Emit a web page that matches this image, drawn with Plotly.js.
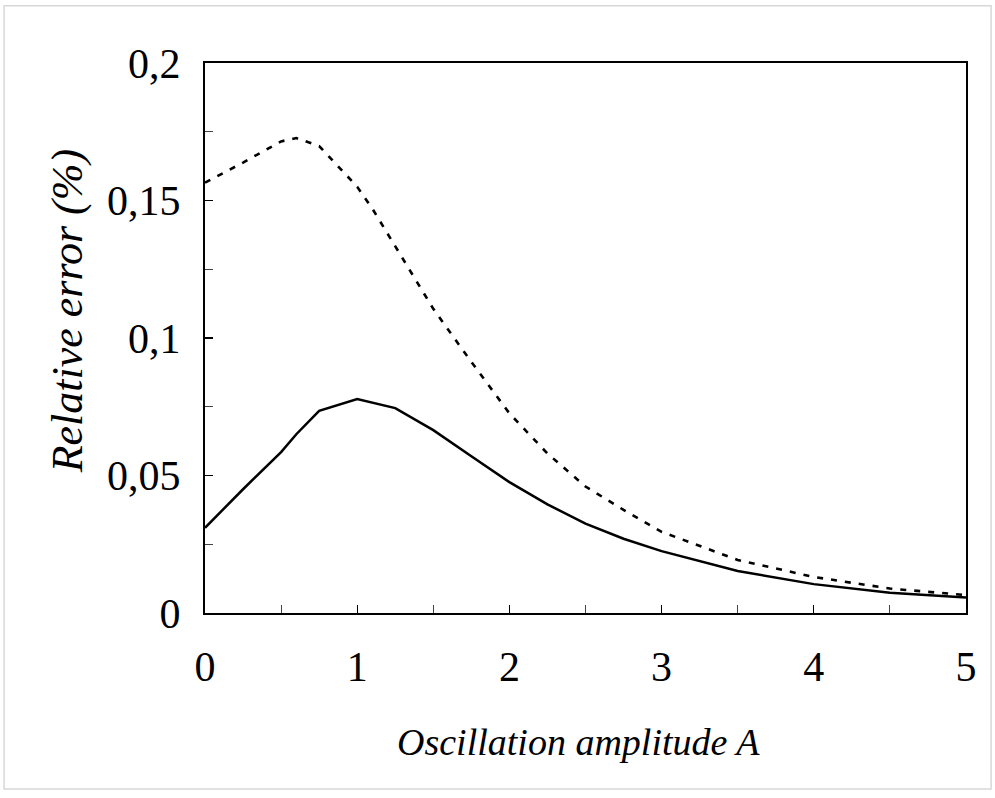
<!DOCTYPE html>
<html>
<head>
<meta charset="utf-8">
<script src="https://cdn.plot.ly/plotly-3.0.1.min.js"></script>
<style>html,body{margin:0;padding:0;background:#fff;}#chart{width:995px;height:798px;}</style>
</head>
<body>
<div id="chart"></div>
<script>
// Amplitude values (x)
const ampSolid = [0, 0.25, 0.5, 0.6, 0.75, 1.0, 1.25, 1.5, 1.75, 2.0, 2.25, 2.5, 2.75, 3.0, 3.5, 4.0, 4.5, 5.0];
const errSolid = [0.031, 0.045, 0.0585, 0.065, 0.0735, 0.0778, 0.0745, 0.0665, 0.057, 0.0476, 0.0395, 0.0325, 0.027, 0.0225, 0.0153, 0.0105, 0.0074, 0.0056];

const ampDashed = [0, 0.25, 0.5, 0.6, 0.75, 0.9, 1.0, 1.1, 1.25, 1.5, 1.75, 2.0, 2.25, 2.5, 2.75, 3.0, 3.5, 4.0, 4.5, 5.0];
const errDashed = [0.1565, 0.1638, 0.1715, 0.1727, 0.1698, 0.161, 0.155, 0.147, 0.1335, 0.1106, 0.0913, 0.0726, 0.058, 0.046, 0.0375, 0.0295, 0.0193, 0.0131, 0.0089, 0.0065];

const xTicks = [0, 1, 2, 3, 4, 5];
const yTicks = [0, 0.05, 0.1, 0.15, 0.2];
const yTickText = ["0", "0,05", "0,1", "0,15", "0,2"];
const xTickText = ["0", "1", "2", "3", "4", "5"];

const serif = "Liberation Serif, Times New Roman, serif";

const traces = [
  {x: ampDashed, y: errDashed, mode: "lines", type: "scatter",
   line: {color: "#000", width: 2.6, dash: "6px,8px"}, hoverinfo: "skip"},
  {x: ampSolid, y: errSolid, mode: "lines", type: "scatter",
   line: {color: "#000", width: 2.5}, hoverinfo: "skip"}
];

const layout = {
  width: 995, height: 798,
  paper_bgcolor: "#fff", plot_bgcolor: "#fff",
  showlegend: false,
  margin: {l: 205, r: 29, t: 63, b: 185},
  font: {family: serif, color: "#000"},
  xaxis: {
    range: [0, 5], showgrid: false, zeroline: false,
    showline: true, linecolor: "#000", linewidth: 2, mirror: true,
    ticks: "inside", ticklen: 8, tickwidth: 1.2, tickcolor: "#000",
    tickvals: xTicks, ticktext: xTickText,
    minor: {tickvals: [0.5, 1.5, 2.5, 3.5, 4.5], ticks: "inside", ticklen: 8, tickwidth: 1, tickcolor: "#444"},
    tickfont: {family: serif, size: 42, color: "#000"},
    ticklabelstandoff: 16
  },
  yaxis: {
    range: [0, 0.2], showgrid: false, zeroline: false,
    showline: true, linecolor: "#000", linewidth: 2, mirror: true,
    ticks: "inside", ticklen: 8, tickwidth: 1.2, tickcolor: "#000",
    tickvals: yTicks, ticktext: yTickText,
    minor: {tickvals: [0.025, 0.075, 0.125, 0.175], ticks: "inside", ticklen: 8, tickwidth: 1, tickcolor: "#444"},
    tickfont: {family: serif, size: 42, color: "#000"},
    ticklabelstandoff: 14
  },
  annotations: [
    {text: "<i>Oscillation amplitude A</i>", xref: "paper", yref: "paper",
     x: 0.491, y: -0.235, xanchor: "center", yanchor: "middle", showarrow: false,
     font: {family: serif, size: 38, color: "#000"}},
    {text: "<i>Relative error (%)</i>", xref: "paper", yref: "paper",
     x: -0.181, y: 0.549, xanchor: "center", yanchor: "middle", showarrow: false, textangle: -90,
     font: {family: serif, size: 44, color: "#000"}}
  ],
  shapes: [
    {type: "rect", xref: "paper", yref: "paper", x0: -0.264, x1: 1.033, y0: -0.32, y1: 1.104,
     line: {color: "#d8d8d8", width: 1.5}, fillcolor: "rgba(0,0,0,0)", layer: "below"}
  ]
};

Plotly.newPlot("chart", traces, layout, {staticPlot: true, displayModeBar: false});
</script>
</body>
</html>
